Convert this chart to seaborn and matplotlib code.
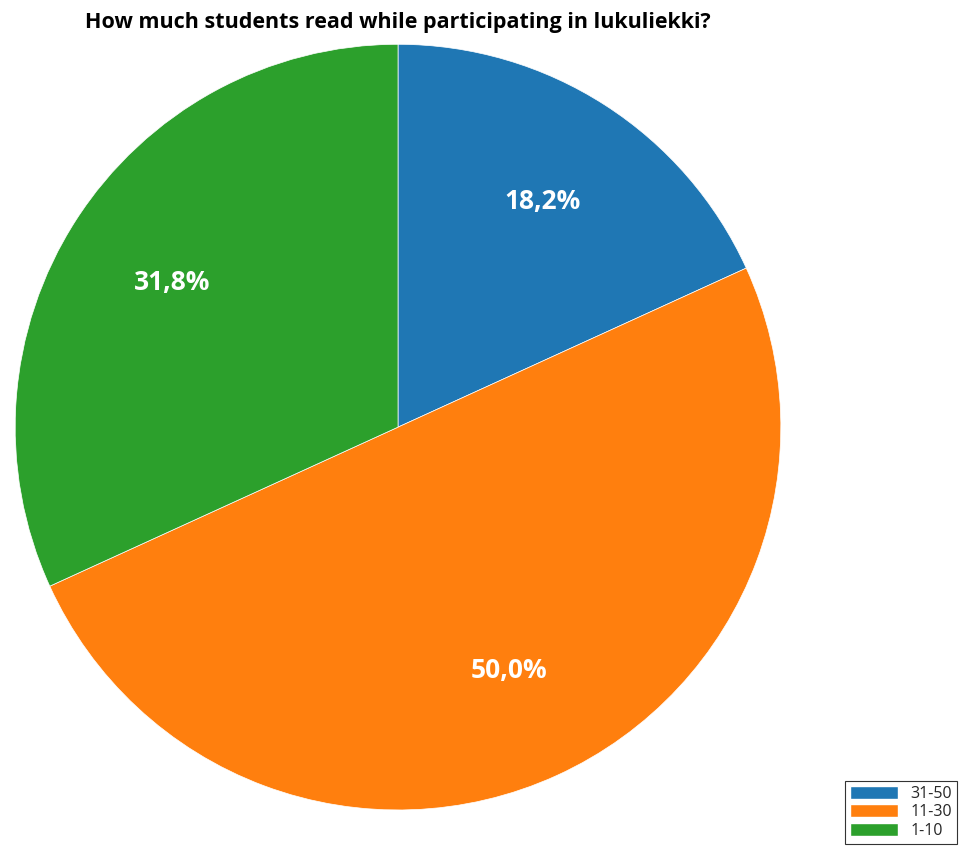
import matplotlib
matplotlib.use("Agg")
import matplotlib.pyplot as plt
import seaborn as sns

categories = ["31-50", "11-30", "1-10"]
counts = [4, 11, 7]
title = "How much students read while participating in lukuliekki?"

sns.set_theme(style="white")
plt.rcParams['font.family'] = ['Open Sans', 'DejaVu Sans']
colors = sns.color_palette("tab10", 3)

fig = plt.figure(figsize=(9.6, 8.47), dpi=100)
ax = fig.add_axes([0.0156, 0.0437, 0.798, 0.904])

def fmt(p):
    return f"{p:.1f}%".replace(".", ",")

wedges, texts, autotexts = ax.pie(
    counts, colors=colors, startangle=90, counterclock=False,
    autopct=fmt, pctdistance=0.7,
    wedgeprops=dict(edgecolor="white", linewidth=0.5),
    textprops=dict(color="white", fontsize=19, fontweight="bold"),
)
ax.set_aspect("equal")
ax.set_xlim(-1, 1)
ax.set_ylim(-1, 1)

fig.text(0.4146, 0.974, title, ha="center", va="center", fontsize=15.5, fontweight="bold", color="black")

handles = [matplotlib.patches.Patch(facecolor=c) for c in colors]
leg = fig.legend(handles, categories, loc="lower right", bbox_to_anchor=(0.997, 0.004),
                 fontsize=11.5, frameon=True, fancybox=False, framealpha=1,
                 edgecolor="#333333", handlelength=3.0, handleheight=0.9,
                 labelspacing=0.15, borderpad=0.3, handletextpad=0.8, borderaxespad=0)
leg.get_frame().set_linewidth(0.8)

fig.savefig("out.png", dpi=100)
